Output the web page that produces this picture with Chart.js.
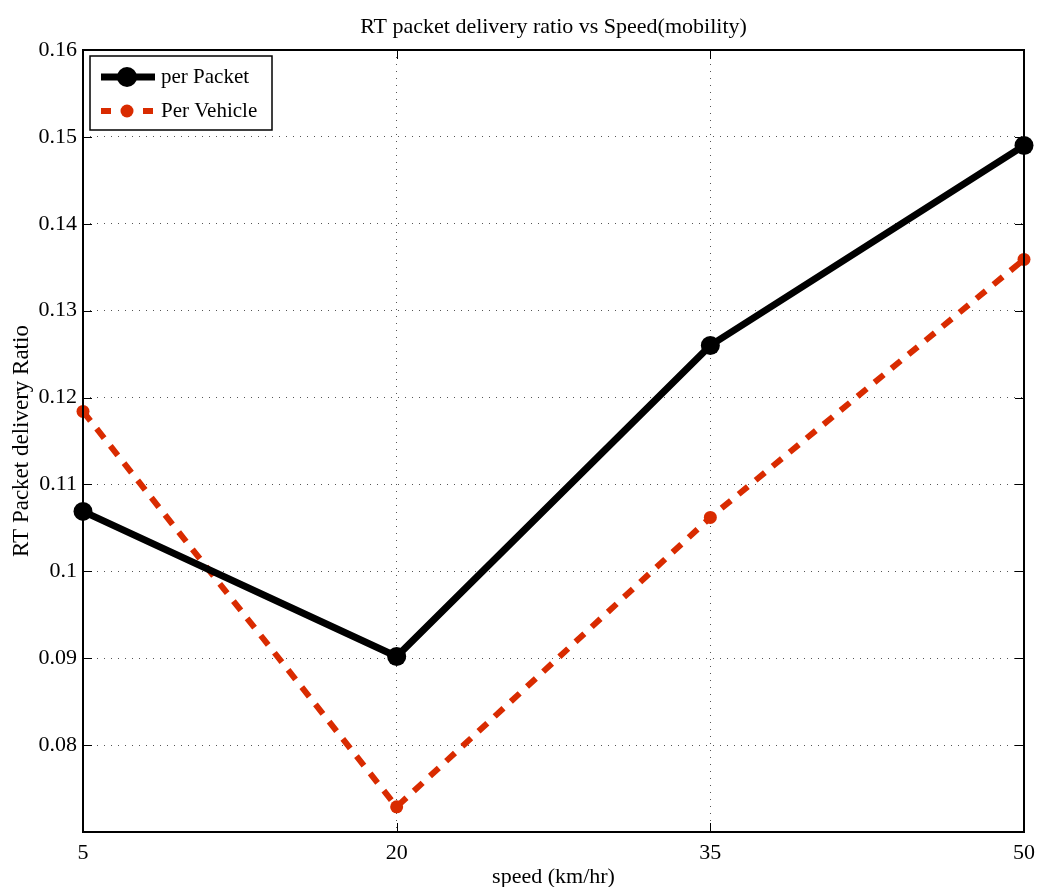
<!DOCTYPE html>
<html>
<head>
<meta charset="utf-8">
<script src="https://cdn.jsdelivr.net/npm/chart.js@4"></script>
<style>
    html, body { margin: 0; padding: 0; background: #fff; }
    #wrap { width: 1037px; height: 887px; }
</style>
</head>
<body>
<div id="wrap"><canvas id="rtChart" width="1037" height="887"></canvas></div>
<script>
const speeds = [5, 20, 35, 50];
const perPacket = [0.1069, 0.0902, 0.1260, 0.1490];
const perVehicle = [0.1184, 0.0729, 0.1062, 0.1359];
const yTicks = [0.07, 0.08, 0.09, 0.10, 0.11, 0.12, 0.13, 0.14, 0.15, 0.16];

const serif = '"Liberation Serif", "DejaVu Serif", serif';
const red = 'rgb(217, 43, 0)';

function toPoints(values) {
    return speeds.map(function(s, i) { return { x: s, y: values[i] }; });
}

// box, inward ticks, title and legend in the MATLAB style
const matlabFrame = {
    id: 'matlabFrame',
    afterDraw: function(chart) {
        const ctx = chart.ctx;
        const a = chart.chartArea;
        const xs = chart.scales.x;
        const ys = chart.scales.y;

        ctx.save();
        ctx.strokeStyle = '#000';
        ctx.lineWidth = 1;
        ctx.beginPath();
        speeds.forEach(function(s) {
            const px = Math.round(xs.getPixelForValue(s)) + 0.5;
            ctx.moveTo(px, a.bottom); ctx.lineTo(px, a.bottom - 9);
            ctx.moveTo(px, a.top); ctx.lineTo(px, a.top + 9);
        });
        yTicks.forEach(function(v) {
            const py = Math.round(ys.getPixelForValue(v)) + 0.5;
            ctx.moveTo(a.left, py); ctx.lineTo(a.left + 9, py);
            ctx.moveTo(a.right, py); ctx.lineTo(a.right - 9, py);
        });
        ctx.stroke();

        ctx.lineWidth = 2;
        ctx.strokeRect(Math.round(a.left), Math.round(a.top), Math.round(a.right - a.left), Math.round(a.bottom - a.top));

        // title
        ctx.fillStyle = '#000';
        ctx.font = '22px ' + serif;
        ctx.textAlign = 'center';
        ctx.textBaseline = 'middle';
        ctx.fillText('RT packet delivery ratio vs Speed(mobility)', (a.left + a.right) / 2, 27);

        // legend
        ctx.fillStyle = '#fff';
        ctx.fillRect(90, 56, 182, 74);
        ctx.lineWidth = 1.5;
        ctx.strokeStyle = '#000';
        ctx.strokeRect(90, 56, 182, 74);

        ctx.lineWidth = 7;
        ctx.beginPath(); ctx.moveTo(101, 77); ctx.lineTo(155, 77); ctx.stroke();
        ctx.fillStyle = '#000';
        ctx.beginPath(); ctx.arc(127, 77, 10, 0, Math.PI * 2); ctx.fill();

        ctx.strokeStyle = red;
        ctx.lineWidth = 6;
        ctx.setLineDash([10, 11]);
        ctx.beginPath(); ctx.moveTo(101, 111); ctx.lineTo(155, 111); ctx.stroke();
        ctx.setLineDash([]);
        ctx.fillStyle = red;
        ctx.beginPath(); ctx.arc(127, 111, 6.5, 0, Math.PI * 2); ctx.fill();

        ctx.fillStyle = '#000';
        ctx.font = '21px ' + serif;
        ctx.textAlign = 'left';
        ctx.fillText('per Packet', 161, 77);
        ctx.fillText('Per Vehicle', 161, 111);
        ctx.restore();
    }
};

const ctx = document.getElementById('rtChart').getContext('2d');
const rtChart = new Chart(ctx, {
    type: 'line',
    data: {
        datasets: [{
            label: 'per Packet',
            data: toPoints(perPacket),
            borderColor: '#000',
            backgroundColor: '#000',
            borderWidth: 7,
            pointRadius: 9.5,
            pointBorderWidth: 0,
            pointBackgroundColor: '#000',
            tension: 0,
            clip: false
        }, {
            label: 'Per Vehicle',
            data: toPoints(perVehicle),
            borderColor: red,
            backgroundColor: red,
            borderWidth: 6,
            borderDash: [12, 10],
            pointRadius: 6.5,
            pointBorderWidth: 0,
            pointBackgroundColor: red,
            tension: 0,
            clip: false
        }]
    },
    options: {
        responsive: false,
        animation: false,
        layout: {
            padding: { left: 0, top: 50, right: 13, bottom: 0 }
        },
        plugins: {
            legend: { display: false },
            title: { display: false },
            tooltip: { enabled: false }
        },
        scales: {
            x: {
                type: 'linear',
                min: 5,
                max: 50,
                afterBuildTicks: function(scale) {
                    scale.ticks = speeds.map(function(s) { return { value: s }; });
                },
                afterFit: function(scale) {
                    scale.height = 55;
                    scale.paddingLeft = 0;
                    scale.paddingRight = 0;
                },
                grid: { color: '#555', lineWidth: 1, drawTicks: false },
                border: { display: false, dash: [1, 6] },
                ticks: {
                    color: '#000',
                    padding: 8,
                    maxRotation: 0,
                    font: { family: serif, size: 22 }
                },
                title: {
                    display: true,
                    text: 'speed (km/hr)',
                    color: '#000',
                    padding: { top: 0, bottom: -3 },
                    font: { family: serif, size: 22 }
                }
            },
            y: {
                min: 0.07,
                max: 0.16,
                afterBuildTicks: function(scale) {
                    scale.ticks = yTicks.map(function(v) { return { value: v }; });
                },
                afterFit: function(scale) {
                    scale.width = 83;
                    scale.paddingTop = 0;
                    scale.paddingBottom = 0;
                },
                grid: { color: '#555', lineWidth: 1, drawTicks: false },
                border: { display: false, dash: [1, 6] },
                ticks: {
                    color: '#000',
                    padding: 6,
                    font: { family: serif, size: 22 },
                    callback: function(value) {
                        if (value < 0.075) return '';
                        return String(parseFloat(value.toFixed(2)));
                    }
                },
                title: {
                    display: true,
                    text: 'RT Packet delivery Ratio',
                    color: '#000',
                    padding: { top: 8, bottom: 0 },
                    font: { family: serif, size: 23 }
                }
            }
        }
    },
    plugins: [matlabFrame]
});
</script>
</body>
</html>
